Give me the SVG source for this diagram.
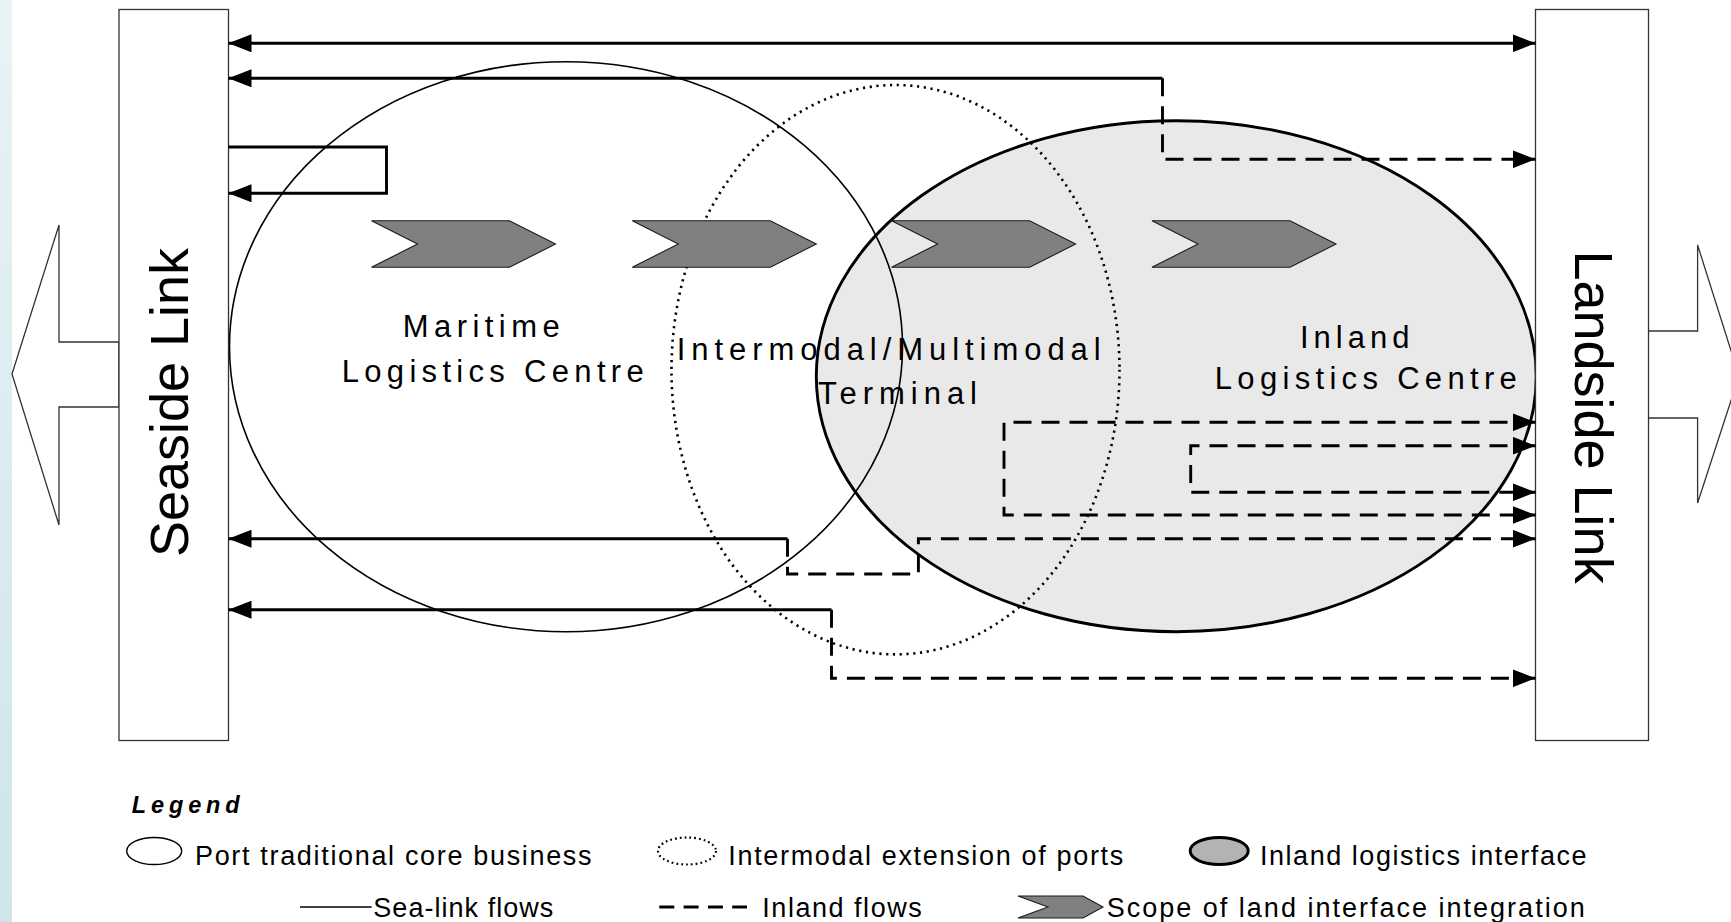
<svg xmlns="http://www.w3.org/2000/svg" width="1731" height="922" viewBox="0 0 1731 922">
<defs>
<linearGradient id="strip" x1="0" y1="0" x2="0" y2="1">
<stop offset="0" stop-color="#e8f3f6"/>
<stop offset="1" stop-color="#cfe5e9"/>
</linearGradient>
<marker id="ah" markerUnits="userSpaceOnUse" markerWidth="23" markerHeight="18" viewBox="0 0 23 18" refX="23" refY="9" orient="auto-start-reverse">
<path d="M0,0 L23,9 L0,18 Z" fill="#000"/>
</marker>
<polygon id="chev" points="0,0 138,0 184,23.3 138,46.6 0,46.6 46,23.3"/>
</defs>
<style>
.lbl{font-family:"Liberation Sans",Arial,sans-serif;font-size:31px;fill:#000}
.big{font-family:"Liberation Sans",Arial,sans-serif;font-size:54px;fill:#000}
.leg{font-family:"Liberation Sans",Arial,sans-serif;font-size:27px;fill:#000}
.box{fill:#fff;stroke:#333;stroke-width:1.3}
.solid{fill:none;stroke:#000;stroke-width:2.9}
.dash{fill:none;stroke:#000;stroke-width:2.9;stroke-dasharray:18 10}
.chev{fill:#808080;stroke:#1a1a1a;stroke-width:1.1}
</style>
<rect x="0" y="0" width="1731" height="922" fill="#fff"/>
<rect x="0" y="0" width="12" height="922" fill="url(#strip)"/>

<g id="inland-centre">
<ellipse cx="1176.3" cy="376.2" rx="360" ry="255.5" fill="#e9e9e9" stroke="#000" stroke-width="2.9"/>
</g>
<g id="maritime-centre">
<ellipse cx="566" cy="346.7" rx="336.5" ry="285" fill="none" stroke="#000" stroke-width="1.6"/>
</g>
<g id="intermodal-terminal">
<ellipse cx="895.5" cy="369.7" rx="224" ry="284.7" fill="none" stroke="#000" stroke-width="2.6" stroke-dasharray="2.2 4.6"/>
</g>

<g id="seaside-link">
<polygon class="box" points="119,342 59,342 59,225 12,374 59,525 59,407 119,407"/>
<rect class="box" x="119" y="9.5" width="109.5" height="731"/>
<text class="big" text-anchor="middle" transform="translate(187.5,402.5) rotate(-90)">Seaside Link</text>
</g>
<g id="landside-link">
<polygon class="box" points="1648,331 1697.6,331 1697.6,245 1739,376 1697.6,503 1697.6,418 1648,418"/>
<rect class="box" x="1535.5" y="9.5" width="113" height="731"/>
<text class="big" text-anchor="middle" transform="translate(1575,417) rotate(90)">Landside Link</text>
</g>

<g id="chevrons">
<use href="#chev" class="chev" x="371.5" y="220.7"/>
<use href="#chev" class="chev" x="632.3" y="220.7"/>
<use href="#chev" class="chev" x="891.6" y="220.7"/>
<use href="#chev" class="chev" x="1152" y="220.7"/>
</g>

<g id="labels">
<text class="lbl" x="402.7" y="336.7" textLength="157" lengthAdjust="spacing">Maritime</text>
<text class="lbl" x="341.7" y="381.7" textLength="302" lengthAdjust="spacing">Logistics Centre</text>
<text class="lbl" x="676.7" y="360" textLength="424" lengthAdjust="spacing">Intermodal/Multimodal</text>
<text class="lbl" x="818" y="404" textLength="159" lengthAdjust="spacing">Terminal</text>
<text class="lbl" x="1300" y="347.7" textLength="109.5" lengthAdjust="spacing">Inland</text>
<text class="lbl" x="1214.8" y="389.3" textLength="302" lengthAdjust="spacing">Logistics Centre</text>
</g>

<g id="connectors">
<path class="solid" d="M228.5,43.3 H1535.5" marker-start="url(#ah)" marker-end="url(#ah)"/>
<path class="solid" d="M1162.5,78.3 H228.5" marker-end="url(#ah)"/>
<path class="dash" d="M1162.5,78.3 V159.3 H1535.5" marker-end="url(#ah)"/>
<path class="solid" d="M228.5,147 H386.5 V193.3 H228.5" marker-end="url(#ah)"/>
<path class="dash" d="M1535.5,422.3 H1004 V515 H1535.5" marker-start="url(#ah)" marker-end="url(#ah)"/>
<path class="dash" d="M1535.5,445.7 H1190.7 V492.3 H1535.5" marker-start="url(#ah)" marker-end="url(#ah)"/>
<path class="solid" d="M787.5,538.7 H228.5" marker-end="url(#ah)"/>
<path class="dash" d="M787.5,538.7 V574 H918.4 V538.7 H1535.5" marker-end="url(#ah)"/>
<path class="solid" d="M831.5,609.7 H228.5" marker-end="url(#ah)"/>
<path class="dash" d="M831.5,609.7 V678.3 H1535.5" marker-end="url(#ah)"/>
</g>

<g id="legend">
<text x="131.7" y="813.3" textLength="108" lengthAdjust="spacing" style="font-family:'Liberation Sans',Arial,sans-serif;font-size:23.5px;font-weight:bold;font-style:italic">Legend</text>
<ellipse cx="154.2" cy="851" rx="27.5" ry="13.5" fill="none" stroke="#000" stroke-width="1.4"/>
<text class="leg" x="195" y="865" textLength="396.5" lengthAdjust="spacing">Port traditional core business</text>
<ellipse cx="687" cy="851" rx="29" ry="13.5" fill="none" stroke="#000" stroke-width="2.2" stroke-dasharray="1.8 3"/>
<text class="leg" x="728.3" y="865" textLength="395" lengthAdjust="spacing">Intermodal extension of ports</text>
<ellipse cx="1219.2" cy="851" rx="29" ry="13.5" fill="#b3b3b3" stroke="#000" stroke-width="3"/>
<text class="leg" x="1260" y="865" textLength="326.5" lengthAdjust="spacing">Inland logistics interface</text>
<line x1="300" y1="907" x2="371.7" y2="907" stroke="#000" stroke-width="1.3"/>
<text class="leg" x="373.3" y="916.5" textLength="180" lengthAdjust="spacing">Sea-link flows</text>
<line x1="659.3" y1="907" x2="747" y2="907" stroke="#000" stroke-width="3.2" stroke-dasharray="15 9.3"/>
<text class="leg" x="762.3" y="916.5" textLength="159.4" lengthAdjust="spacing">Inland flows</text>
<polygon class="chev" points="1018,896 1083,896 1103,907 1083,918 1018,918 1048,907"/>
<text class="leg" x="1106.7" y="916.5" textLength="478" lengthAdjust="spacing">Scope of land interface integration</text>
</g>
</svg>
